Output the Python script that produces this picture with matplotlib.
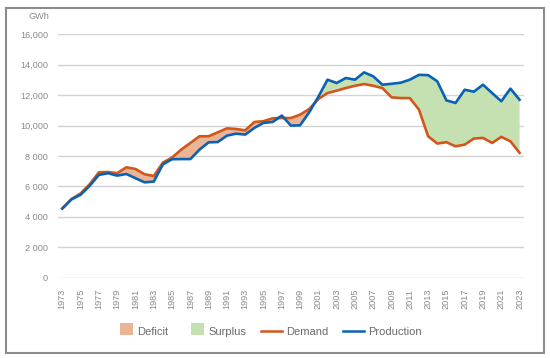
import numpy as np
import matplotlib.pyplot as plt
from matplotlib.patches import Rectangle, Patch
from matplotlib.lines import Line2D
from matplotlib.legend_handler import HandlerPatch

plt.rcParams['font.family'] = ['Liberation Sans', 'DejaVu Sans']

# data (GWh)
years = list(range(1973, 2024))
demand = [4550, 5170, 5540, 6150, 6930, 6950, 6870, 7260, 7150, 6800,
          6690, 7570, 7900, 8420, 8860, 9300, 9300, 9560, 9820, 9780,
          9690, 10240, 10290, 10480, 10500, 10500, 10720, 11090, 11750, 12140,
          12300, 12470, 12620, 12730, 12620, 12470, 11860, 11810, 11810, 11050,
          9300, 8820, 8910, 8640, 8750, 9150, 9190, 8860, 9260, 8970,
          8210]
production = [4550, 5150, 5450, 6050, 6760, 6870, 6710, 6820, 6540, 6270,
              6320, 7460, 7790, 7800, 7800, 8420, 8900, 8920, 9340, 9470,
              9410, 9850, 10180, 10240, 10660, 10000, 10020, 10880, 11900, 13020,
              12800, 13130, 13020, 13500, 13240, 12690, 12750, 12820, 13020, 13340,
              13320, 12910, 11660, 11490, 12360, 12230, 12690, 12140, 11600, 12430,
              11700]
y_ticks = [0, 2000, 4000, 6000, 8000, 10000, 12000, 14000, 16000]
y_labels = ['0', '2 000', '4 000', '6 000', '8 000', '10,000', '12,000', '14,000', '16,000']

c_demand = '#D2561A'
c_prod = '#0A62B4'
c_deficit = '#EAB497'
c_surplus = '#C6E1B1'
grey = '#8A8A8A'

yr = np.array(years)
d = np.array(demand)
p = np.array(production)

fig = plt.figure(figsize=(5.5, 3.58), dpi=100)
ax = fig.add_axes([0.105, 0.2243, 0.848, 0.6797])

ax.fill_between(yr, d, p, where=d >= p, interpolate=True, color=c_deficit, lw=0)
ax.fill_between(yr, d, p, where=p >= d, interpolate=True, color=c_surplus, lw=0)
ax.plot(yr, d, color=c_demand, lw=1.9, zorder=3)
ax.plot(yr, p, color=c_prod, lw=1.9, zorder=4)

ax.set_xlim(1972.5, 2023.5)
ax.set_ylim(0, 16000)
ax.set_yticks(y_ticks)
ax.set_yticklabels(y_labels)
ax.set_xticks(years[::2])
ax.set_xticklabels([str(y) for y in years[::2]], rotation=90)
ax.tick_params(axis='both', length=0, labelsize=6.6, labelcolor=grey)
ax.tick_params(axis='y', pad=7)
ax.tick_params(axis='x', pad=8)
ax.grid(axis='y', color='#D3D3D3', lw=1.0)
ax.set_axisbelow(True)
for s in ax.spines.values():
    s.set_visible(False)

fig.text(0.089, 0.953, 'GWh', ha='right', va='center', fontsize=6.6, color=grey)


# square colour swatches for the area entries
class SquareHandler(HandlerPatch):
    def create_artists(self, legend, orig, xd, yd, w, h, fontsize, trans):
        s = h * 1.25
        r = Rectangle((xd + w - s, yd + h / 2 - s / 2), s, s,
                      facecolor=orig.get_facecolor(), lw=0, transform=trans)
        return [r]


handles = [Patch(color=c_deficit), Patch(color=c_surplus),
           Line2D([], [], color=c_demand, lw=1.8), Line2D([], [], color=c_prod, lw=1.8)]
fig.legend(handles, ['Deficit', 'Surplus', 'Demand', 'Production'], loc='center',
           bbox_to_anchor=(0.485, 0.073), ncol=4, frameon=False, fontsize=8,
           labelcolor='#6A6A6A', handlelength=1.9, handleheight=1.0,
           columnspacing=1.3, handletextpad=0.4,
           handler_map={Patch: SquareHandler()})

# grey frame round the whole chart
fig.patches.append(Rectangle((0.0104, 0.013), 0.979, 0.966, transform=fig.transFigure,
                             fill=False, edgecolor='#8C8C8C', lw=1.5))

plt.savefig('out.png', dpi=100)
